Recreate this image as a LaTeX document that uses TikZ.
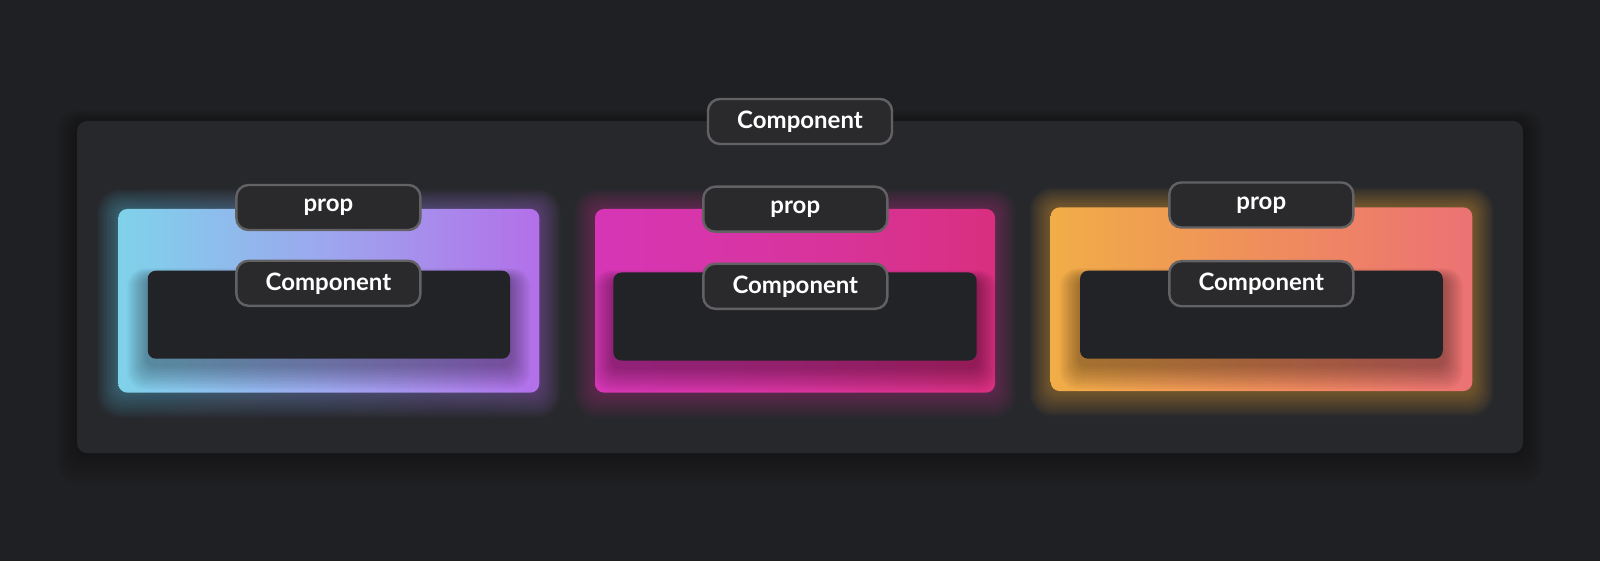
\documentclass[tikz,border=0pt]{standalone}
\usepackage{fontspec}
\setmainfont{Lato}
\usetikzlibrary{backgrounds}
\definecolor{bgc}{HTML}{1F2024}
\definecolor{panelc}{HTML}{27282C}
\definecolor{labfill}{HTML}{2A2A2C}
\definecolor{labline}{HTML}{626265}
\definecolor{innerc}{HTML}{222327}
\definecolor{aL}{HTML}{7FD2EA}
\definecolor{aM}{HTML}{9DA6EE}
\definecolor{aR}{HTML}{B36FE9}
\definecolor{bL}{HTML}{D636B6}
\definecolor{bM}{HTML}{D8349F}
\definecolor{bR}{HTML}{D92F80}
\definecolor{cL}{HTML}{F1AD47}
\definecolor{cM}{HTML}{EF8E5C}
\definecolor{cR}{HTML}{EC7274}
\definecolor{gA}{HTML}{5EC6E2}
\definecolor{gB}{HTML}{C02A90}
\definecolor{gC}{HTML}{E8A22E}
\pgfdeclarelayer{bg}
\pgfdeclarelayer{cardl}
\pgfdeclarelayer{shad}
\pgfsetlayers{bg,cardl,shad,main}
\tikzset{
  lab/.style={draw=labline, line width=2.4pt, fill=labfill, rounded corners=12pt,
    minimum width=184pt, minimum height=45pt, text=white, inner sep=0pt,
    font=\fontsize{24}{26}\selectfont\bfseries},
  card/.style={rounded corners=9pt, minimum height=183.7pt, inner sep=0pt},
  innerbox/.style={fill=innerc, rounded corners=8pt, minimum height=88pt, inner sep=0pt},
  panel/.style={fill=panelc, rounded corners=10pt, inner sep=0pt}
}
\begin{document}
\begin{tikzpicture}[x=1pt,y=-1pt]
\useasboundingbox (0,0) rectangle (1600,561);
% cards
\begin{pgfonlayer}{cardl}
\node[card, minimum width=421pt, left color=aL, right color=aR, middle color=aM] (c1) at (328.8,300.8) {};
\node[card, minimum width=400pt, left color=bL, right color=bR, middle color=bM] (c2) at (795,300.8) {};
\node[card, minimum width=421.6pt, left color=cL, right color=cR, middle color=cM] (c3) at (1261.5,299.2) {};
\end{pgfonlayer}
% inner boxes
\node[innerbox, minimum width=362.3pt] (i1) at (328.9,314.7) {};
\node[innerbox, minimum width=363.4pt] (i2) at (795,316.5) {};
\node[innerbox, minimum width=362.7pt] (i3) at (1261.4,314.7) {};
% background, panel and glows
\begin{pgfonlayer}{bg}
\fill[bgc] (0,0) rectangle (1600,561);
\foreach \k in {1,...,10}{
  \fill[black, opacity=0.03, rounded corners=10pt+\k pt]
    (77-\k*2,121-\k*1) rectangle (1523+\k*2,453+\k*3);
}
\node[panel, minimum width=1446pt, minimum height=332pt] (p) at (800,287) {};
\foreach \k in {1,...,14}{
  \shade[left color=gA, right color=aR, opacity=0.032, rounded corners=9pt+\k pt]
    ([shift={(-\k*1.5pt,\k*1.4pt)}]c1.north west) rectangle ([shift={(\k*1.5pt,-\k*1.8pt)}]c1.south east);
  \fill[gB, opacity=0.032, rounded corners=9pt+\k pt]
    ([shift={(-\k*1.5pt,\k*1.4pt)}]c2.north west) rectangle ([shift={(\k*1.5pt,-\k*1.8pt)}]c2.south east);
  \fill[gC, opacity=0.036, rounded corners=9pt+\k pt]
    ([shift={(-\k*1.5pt,\k*1.4pt)}]c3.north west) rectangle ([shift={(\k*1.5pt,-\k*1.8pt)}]c3.south east);
}
\end{pgfonlayer}
% shadows of inner boxes
\begin{pgfonlayer}{shad}
\foreach \n in {i1,i2,i3}{
  \foreach \k in {1,...,10}{
    \begin{scope}
      \clip[rounded corners=9pt] ([shift={(-30pt,30pt)}]\n.north west) rectangle ([shift={(30pt,-60pt)}]\n.south east);
      \fill[black, opacity=0.035, rounded corners=8pt+\k pt]
        ([shift={(-\k*2pt,\k*1pt-8pt)}]\n.north west) rectangle ([shift={(\k*2pt,-\k*2.4pt-6pt)}]\n.south east);
    \end{scope}
  }
}
\end{pgfonlayer}
% labels
\node[lab] (top) at (800,121.5) {Component};
\node[lab] (p1) at (328.4,207.5) {prop};
\node[lab] (k1) at (328.4,283.3) {Component};
\node[lab] (p2) at (795.3,209.2) {prop};
\node[lab] (k2) at (795.3,286.3) {Component};
\node[lab] (p3) at (1261.3,205) {prop};
\node[lab] (k3) at (1261.3,283.7) {Component};
\end{tikzpicture}
\end{document}
